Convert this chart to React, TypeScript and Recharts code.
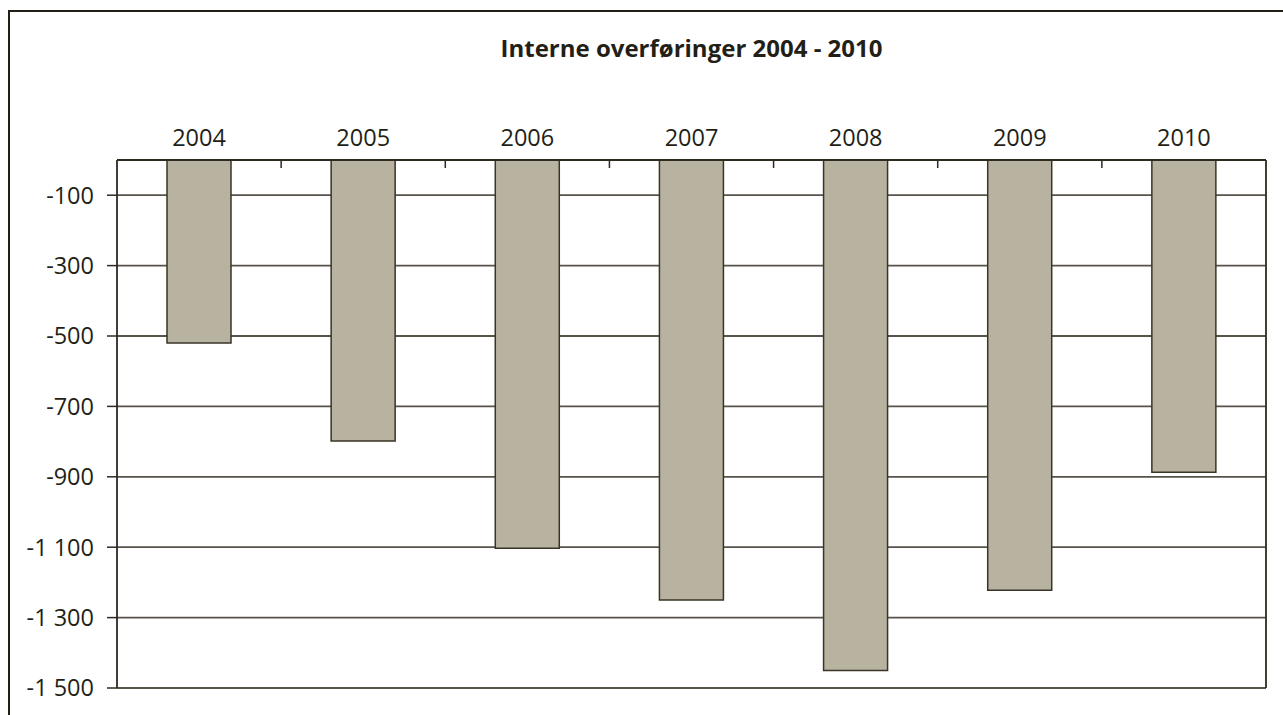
import React from "react";
import {
  BarChart,
  Bar,
  XAxis,
  YAxis,
  CartesianGrid,
  ReferenceLine,
} from "recharts";

// Interne overføringer per år
const years = ["2004", "2005", "2006", "2007", "2008", "2009", "2010"];
const transfers = [-520, -798, -1103, -1250, -1450, -1222, -887];
const yTicks = [-100, -300, -500, -700, -900, -1100, -1300, -1500];

const data = years.map((year, i) => ({ year, value: transfers[i] }));

const FONT = "'Open Sans', 'Noto Sans', sans-serif";
const INK = "#231f17";
const AXIS = "#2e2a20";
const GRID = "#57534a";
const BAR_FILL = "#b8b3a0";
const BAR_STROKE = "#3a3427";

const formatThousands = (v: number) => {
  const s = String(Math.abs(v)).replace(/\B(?=(\d{3})+(?!\d))/g, " ");
  return v < 0 ? `-${s}` : s;
};

// year label above the axis, plus a small tick at the right edge of each band
const YearTick = (props: any) => {
  const { x, y, payload, index, visibleTicksCount } = props;
  const half = payload?.offset ?? 82;
  return (
    <g>
      <text
        x={x}
        y={y}
        textAnchor="middle"
        fontSize={23.5}
        fill={INK}
        fontFamily={FONT}
      >
        {payload.value}
      </text>
      {index < visibleTicksCount - 1 && (
        <line
          x1={x + half}
          x2={x + half}
          y1={y + 14}
          y2={y + 22}
          stroke={AXIS}
          strokeWidth={1.5}
        />
      )}
    </g>
  );
};

const App: React.FC = () => {
  return (
    <div
      style={{
        position: "absolute",
        left: 0,
        top: 0,
        width: 1283,
        height: 715,
        overflow: "hidden",
        background: "#fff",
      }}
    >
      {/* outer frame, only left and top edges visible */}
      <div
        style={{
          position: "absolute",
          left: 8,
          top: 10,
          width: 1400,
          height: 800,
          borderLeft: `2px solid ${INK}`,
          borderTop: `2px solid ${INK}`,
        }}
      />
      <div
        style={{
          position: "absolute",
          left: 117,
          width: 1149,
          top: 31,
          textAlign: "center",
          fontFamily: FONT,
          fontWeight: 700,
          fontSize: 24,
          color: INK,
        }}
      >
        Interne overføringer 2004 - 2010
      </div>
      <div style={{ position: "absolute", left: 0, top: 0 }}>
        <BarChart
          width={1283}
          height={715}
          data={data}
          margin={{ top: 0, right: 17, bottom: 27, left: 0 }}
        >
          <CartesianGrid
            vertical={false}
            stroke={GRID}
            strokeWidth={1.8}
          />
          <XAxis
            dataKey="year"
            orientation="top"
            height={160}
            tickSize={0}
            tickMargin={14}
            tick={<YearTick />}
            axisLine={{ stroke: AXIS, strokeWidth: 1.8 }}
            interval={0}
          />
          <YAxis
            type="number"
            domain={[-1500, 0]}
            ticks={yTicks}
            width={117}
            tickSize={10}
            tickMargin={13}
            tickFormatter={formatThousands}
            tick={{ fontSize: 23.5, fill: INK, fontFamily: FONT }}
            tickLine={{ stroke: AXIS, strokeWidth: 1.5 }}
            axisLine={{ stroke: AXIS, strokeWidth: 1.8 }}
          />
          <ReferenceLine
            x="2010"
            position="end"
            stroke={AXIS}
            strokeWidth={1.8}
          />
          <Bar
            dataKey="value"
            fill={BAR_FILL}
            stroke={BAR_STROKE}
            strokeWidth={1.5}
            barSize={64}
            isAnimationActive={false}
          />
        </BarChart>
      </div>
    </div>
  );
};

export default App;
